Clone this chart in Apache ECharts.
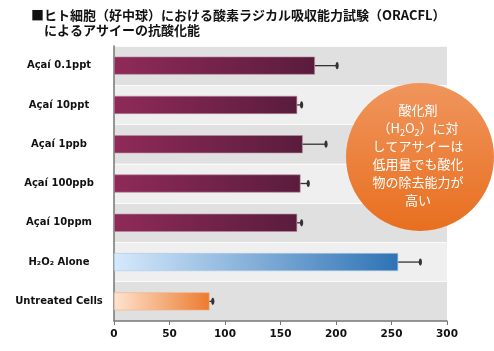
<!DOCTYPE html>
<html><head><meta charset="utf-8">
<script src="https://cdn.jsdelivr.net/npm/echarts@6/dist/echarts.min.js"></script>
<style>html,body{margin:0;padding:0;background:#fff;}#c{width:494px;height:351px;}</style>
</head><body><div id="c"></div>
<script>
const categories = ['Açaí 0.1ppt','Açaí 10ppt','Açaí 1ppb','Açaí 100ppb','Açaí 10ppm','H₂O₂ Alone','Untreated Cells'];
const values = [181, 165, 170, 168, 165, 256, 86];
const errors = [20, 4, 21, 7, 4, 20, 3];
const xTicks = [0, 50, 100, 150, 200, 250, 300];
const titleLine1 = '■ヒト細胞（好中球）における酸素ラジカル吸収能力試験（ORACFL）';
const titleLine2 = 'によるアサイーの抗酸化能';
const calloutLines = ['酸化剤', '（H{s|2}O{s|2}）に対', 'してアサイーは', '低用量でも酸化', '物の除去能力が', '高い'];

const grad = (a, b) => new echarts.graphic.LinearGradient(0, 0, 1, 0, [{offset:0,color:a},{offset:1,color:b}]);
const acai = () => grad('#8f2a59', '#5a1c3c');
const barColors = [acai(), acai(), acai(), acai(), acai(), grad('#d6e9fc', '#2e73b4'), grad('#fee3d0', '#ec7b2f')];
const barBorders = ['#b58aa0','#b58aa0','#b58aa0','#b58aa0','#b58aa0','#a9c8e6','#f4b07f'];

const chart = echarts.init(document.getElementById('c'), null, {renderer:'canvas'});
chart.setOption({
  animation: false,
  title: [
    {text: titleLine1, left: 26, top: 4, textStyle:{fontFamily:'Noto Sans CJK JP', fontSize:13, fontWeight:'bold', color:'#111'}},
    {text: titleLine2, left: 39, top: 19, textStyle:{fontFamily:'Noto Sans CJK JP', fontSize:13, fontWeight:'bold', color:'#111'}}
  ],
  grid: {left: 114, right: 47, top: 46, bottom: 30},
  xAxis: {
    type: 'value', min: xTicks[0], max: xTicks[xTicks.length-1], interval: 50,
    axisLine: {show:true, lineStyle:{color:'#777', width:1.5}},
    axisTick: {show:true, length:4, lineStyle:{color:'#777'}},
    splitLine: {show:false},
    axisLabel: {fontFamily:'DejaVu Sans', fontWeight:'bold', fontSize:10.5, color:'#111', margin:8}
  },
  yAxis: {
    type: 'category', data: categories, inverse: true,
    axisLine: {show:true, lineStyle:{color:'#777', width:1.5}},
    axisTick: {show:false},
    splitArea: {show:true, areaStyle:{color:['#e0e0e0','#efefef']}},
    splitLine: {show:true, lineStyle:{color:'#fafafa', width:1}},
    axisLabel: {fontFamily:'DejaVu Sans', fontWeight:'bold', fontSize:10, color:'#111', align:'center', margin:55}
  },
  series: [
    {
      type: 'bar', barWidth: 18, z: 2,
      data: values.map((v, i) => ({value: v, itemStyle: {color: barColors[i], borderColor: barBorders[i], borderWidth: 0.6}}))
    },
    {
      type: 'custom', z: 3,
      data: values.map((v, i) => [v, i, errors[i]]),
      renderItem: function (params, api) {
        const v = api.value(0), idx = api.value(1), e = api.value(2);
        const p0 = api.coord([v, idx]);
        const p1 = api.coord([v + e, idx]);
        return {type:'group', children:[
          {type:'line', shape:{x1:p0[0], y1:p0[1], x2:p1[0], y2:p1[1]}, style:{stroke:'#333', lineWidth:1.3}},
          {type:'ellipse', shape:{cx:p1[0], cy:p1[1], rx:1.6, ry:3.6}, style:{fill:'#333'}}
        ]};
      }
    }
  ],
  graphic: [
    {type:'circle', shape:{cx:420, cy:157, r:74}, z: 10,
     style:{fill:new echarts.graphic.LinearGradient(0,0,0,1,[{offset:0,color:'#f0955d'},{offset:1,color:'#e86f1f'}])}},
    {type:'text', z: 11, x: 418, y: 155,
     style:{text: calloutLines.join('\n'), fill:'#fff', fontFamily:'Noto Sans CJK JP', fontSize:13, align:'center', verticalAlign:'middle', lineHeight:18,
       rich:{s:{fontFamily:'Noto Sans CJK JP', fontSize:9, fill:'#fff', verticalAlign:'bottom', padding:[6,0,0,0], lineHeight:18}}}}
  ]
});
</script></body></html>
